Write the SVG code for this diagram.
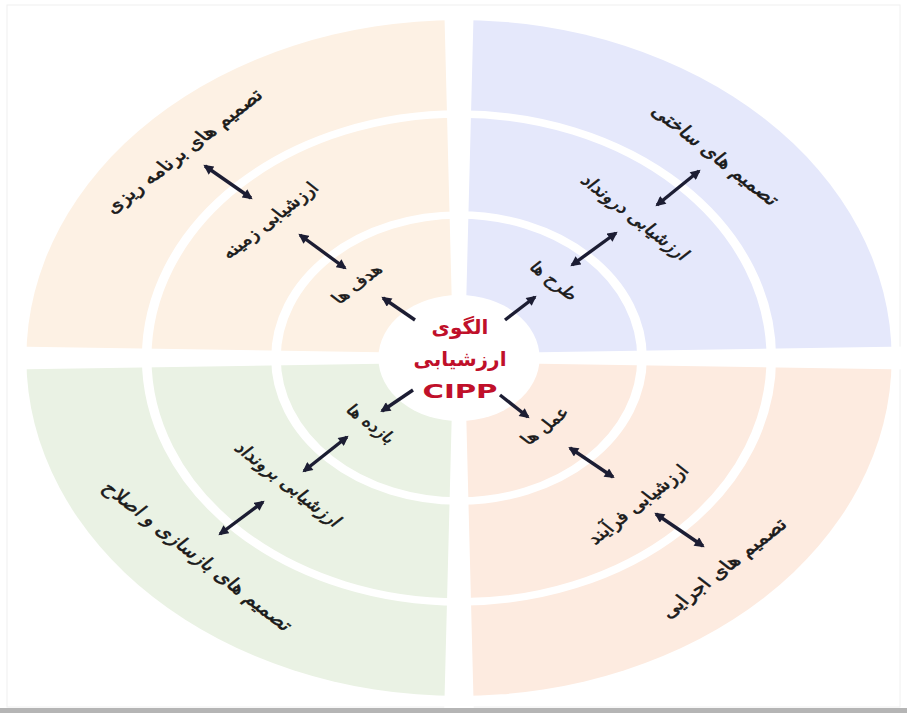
<svg xmlns="http://www.w3.org/2000/svg" width="907" height="713" viewBox="0 0 907 713">
<defs>
<marker id="ah" viewBox="0 0 10 10" refX="8" refY="5" markerWidth="11" markerHeight="10" markerUnits="userSpaceOnUse" orient="auto-start-reverse">
<path d="M0,0 L10,5 L0,10 Z" fill="#1c1d33"/>
</marker>
<style>
.lbl{font-family:"DejaVu Sans",sans-serif;font-size:17px;fill:#1a1a1a;stroke:#1a1a1a;stroke-width:0.55;text-anchor:middle}
.mid{font-size:16px}
.inn{font-size:15px}
.ctr{font-family:"DejaVu Sans",sans-serif;font-weight:bold;font-size:20px;fill:#c0102a;text-anchor:middle}
.ring{fill:none;stroke:#ffffff;stroke-width:7.5}
.gap{fill:#ffffff}
.arr{stroke:#1c1d33;stroke-width:3.4;fill:none;marker-end:url(#ah)}
.arr2{stroke:#1c1d33;stroke-width:3.4;fill:none;marker-start:url(#ah);marker-end:url(#ah)}
</style>
</defs>
<rect x="0" y="0" width="907" height="713" fill="#ffffff"/>
<rect x="7" y="5" width="893" height="702" fill="none" stroke="#f0f0f0" stroke-width="1"/>
<rect x="0" y="708" width="907" height="5" fill="#b5b5b5"/>

<g id="wheel" transform="translate(459,358) scale(1.28,1)">
<path id="q-tl" d="M0,0 L-338,0 A338,338 0 0 1 0,-338 Z" fill="#fdf1e4"/>
<path id="q-tr" d="M0,0 L0,-338 A338,338 0 0 1 338,0 Z" fill="#e5e8fb"/>
<path id="q-br" d="M0,0 L338,0 A338,338 0 0 1 0,338 Z" fill="#fdebe0"/>
<path id="q-bl" d="M0,0 L0,338 A338,338 0 0 1 -338,0 Z" fill="#eaf2e4"/>
<polygon class="gap" points="-4.5,0 -11.5,-350 11.5,-350 4.5,0 11.5,350 -11.5,350"/>
<polygon class="gap" points="0,-4.5 -350,-11.5 -350,11.5 0,4.5 350,11.5 350,-11.5"/>
<circle class="ring" cx="0" cy="0" r="244"/>
<circle class="ring" cx="0" cy="0" r="143"/>
<circle id="center-disc" cx="0" cy="0" r="63" fill="#ffffff"/>
</g>

<g id="connectors">
<line class="arr" x1="415" y1="320" x2="383" y2="298"/>
<line class="arr" x1="505" y1="320" x2="535" y2="297"/>
<line class="arr" x1="413" y1="390" x2="382" y2="411"/>
<line class="arr" x1="500" y1="395" x2="528" y2="417"/>
<line class="arr2" x1="205" y1="166" x2="251" y2="198"/>
<line class="arr2" x1="300" y1="235" x2="345" y2="268"/>
<line class="arr2" x1="572" y1="265" x2="616" y2="233"/>
<line class="arr2" x1="657" y1="205" x2="699" y2="171"/>
<line class="arr2" x1="570" y1="448" x2="613" y2="477"/>
<line class="arr2" x1="656" y1="514" x2="703" y2="546"/>
<line class="arr2" x1="347" y1="437" x2="304" y2="471"/>
<line class="arr2" x1="263" y1="502" x2="220" y2="534"/>
</g>

<g id="center">
<text class="ctr" x="460" y="334">الگوی</text>
<text class="ctr" x="460" y="366">ارزشیابی</text>
<text class="ctr" x="460" y="398" font-size="21" textLength="75" lengthAdjust="spacingAndGlyphs">CIPP</text>
</g>

<g id="tl-outer" transform="translate(183,151) scale(1.28,1) rotate(-45)"><text class="lbl" x="0" y="6">تصمیم های برنامه ریزی</text></g>
<g id="tl-middle" transform="translate(269,220) scale(1.28,1) rotate(-45)"><text class="lbl mid" x="0" y="6">ارزشیابی زمینه</text></g>
<g id="tl-inner" transform="translate(357,284) scale(1.28,1) rotate(-45)"><text class="lbl inn" x="0" y="5">هدف ها</text></g>

<g id="tr-outer" transform="translate(716,155) scale(1.28,1) rotate(45)"><text class="lbl" x="0" y="6">تصمیم های ساختی</text></g>
<g id="tr-middle" transform="translate(636,217) scale(1.28,1) rotate(45)"><text class="lbl mid" x="0" y="6">ارزشیابی درونداد</text></g>
<g id="tr-inner" transform="translate(554,281) scale(1.28,1) rotate(45)"><text class="lbl inn" x="0" y="5">طرح ها</text></g>

<g id="br-inner" transform="translate(545,426) scale(1.28,1) rotate(-45)"><text class="lbl inn" x="0" y="5">عمل ها</text></g>
<g id="br-middle" transform="translate(637,504) scale(1.28,1) rotate(-45)"><text class="lbl mid" x="0" y="6">ارزشیابی فرآیند</text></g>
<g id="br-outer" transform="translate(723,568) scale(1.28,1) rotate(-45)"><text class="lbl" x="0" y="6">تصمیم های اجرایی</text></g>

<g id="bl-inner" transform="translate(371,424) scale(1.28,1) rotate(45)"><text class="lbl inn" x="0" y="5">بازده ها</text></g>
<g id="bl-middle" transform="translate(289,484) scale(1.28,1) rotate(45)"><text class="lbl mid" x="0" y="6">ارزشیابی برونداد</text></g>
<g id="bl-outer" transform="translate(198,556) scale(1.28,1) rotate(45)"><text class="lbl" x="0" y="6">تصمیم های بازسازی و اصلاح</text></g>
</svg>
